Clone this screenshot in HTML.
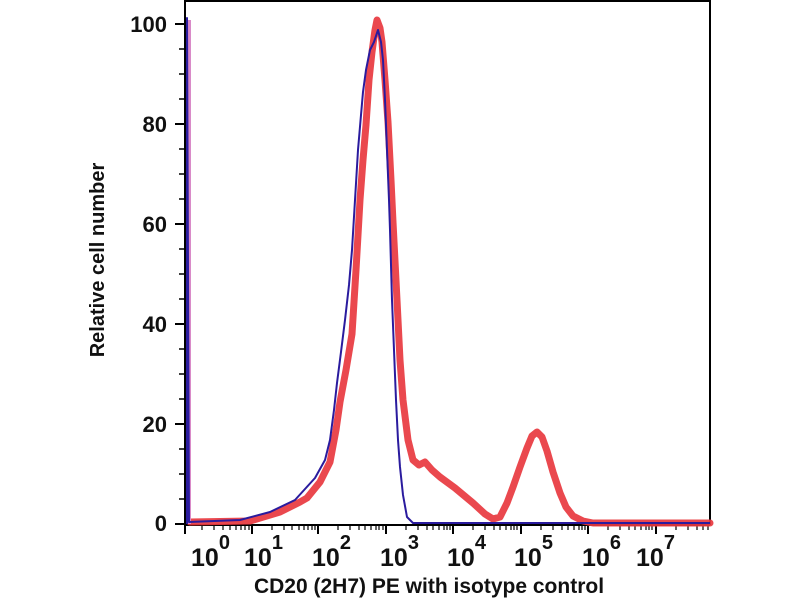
<!DOCTYPE html>
<html><head><style>
body{margin:0;background:#fff;}
svg text{font-family:"Liberation Sans",Arial,sans-serif;font-weight:bold;fill:#111;}
</style></head><body>
<svg width="800" height="600" viewBox="0 0 800 600" xmlns="http://www.w3.org/2000/svg">
<rect width="800" height="600" fill="#fff"/>
<path d="M185,1 L710,1 L710,525 M185,0 L185,526 M185,525 L710,525" stroke="#000" stroke-width="2" fill="none"/>
<g stroke="#000" stroke-width="2">
<line x1="175" y1="24" x2="185" y2="24"/><line x1="175" y1="124" x2="185" y2="124"/>
<line x1="175" y1="224" x2="185" y2="224"/><line x1="175" y1="324" x2="185" y2="324"/>
<line x1="175" y1="424" x2="185" y2="424"/><line x1="175" y1="524" x2="185" y2="524"/>
</g>
<g stroke="#000" stroke-width="1.5">
<line x1="179" y1="49" x2="185" y2="49"/><line x1="179" y1="74" x2="185" y2="74"/><line x1="179" y1="99" x2="185" y2="99"/>
<line x1="179" y1="149" x2="185" y2="149"/><line x1="179" y1="174" x2="185" y2="174"/><line x1="179" y1="199" x2="185" y2="199"/>
<line x1="179" y1="249" x2="185" y2="249"/><line x1="179" y1="274" x2="185" y2="274"/><line x1="179" y1="299" x2="185" y2="299"/>
<line x1="179" y1="349" x2="185" y2="349"/><line x1="179" y1="374" x2="185" y2="374"/><line x1="179" y1="399" x2="185" y2="399"/>
<line x1="179" y1="449" x2="185" y2="449"/><line x1="179" y1="474" x2="185" y2="474"/><line x1="179" y1="499" x2="185" y2="499"/>
</g>
<g font-size="22" text-anchor="end">
<text x="167" y="32">100</text><text x="167" y="132">80</text><text x="167" y="232">60</text>
<text x="167" y="332">40</text><text x="167" y="432">20</text><text x="167" y="531">0</text>
</g>
<text transform="translate(104,260) rotate(-90)" font-size="20" text-anchor="middle">Relative cell number</text>
<g stroke="#000" stroke-width="2">
<line x1="185" y1="525" x2="185" y2="534"/>
<line x1="252" y1="525" x2="252" y2="534"/><line x1="318" y1="525" x2="318" y2="534"/>
<line x1="386" y1="525" x2="386" y2="534"/><line x1="453" y1="525" x2="453" y2="534"/>
<line x1="521" y1="525" x2="521" y2="534"/><line x1="588" y1="525" x2="588" y2="534"/>
<line x1="656" y1="525" x2="656" y2="534"/>
</g>
<g stroke="#000" stroke-width="1.2">
<path d="M202,525v5M214,525v5M223,525v5M230,525v5M236,525v5M241,525v5M245,525v5M249,525v5
M272,525v5M284,525v5M292,525v5M299,525v5M304,525v5M308,525v5M312,525v5M315,525v5
M406,525v5M418,525v5M427,525v5M433,525v5M439,525v5M444,525v5M447,525v5M450,525v5
M473,525v5M485,525v5M494,525v5M500,525v5M506,525v5M511,525v5M514,525v5M517,525v5
M541,525v5M553,525v5M562,525v5M568,525v5M574,525v5M579,525v5M582,525v5M585,525v5
M608,525v5M620,525v5M629,525v5M635,525v5M641,525v5M646,525v5M649,525v5M652,525v5
M338,525v5M350,525v5M359,525v5M365,525v5M371,525v5M376,525v5M379,525v5M383,525v5
M676,525v5M688,525v5M697,525v5M703,525v5M708,525v5"/>
</g>
<g font-size="25">
<text x="191" y="566">10<tspan dy="-17" font-size="20">0</tspan></text>
<text x="244" y="566">10<tspan dy="-17" font-size="20">1</tspan></text>
<text x="312" y="566">10<tspan dy="-17" font-size="20">2</tspan></text>
<text x="380" y="566">10<tspan dy="-17" font-size="20">3</tspan></text>
<text x="447" y="566">10<tspan dy="-17" font-size="20">4</tspan></text>
<text x="514" y="566">10<tspan dy="-17" font-size="20">5</tspan></text>
<text x="582" y="566">10<tspan dy="-17" font-size="20">6</tspan></text>
<text x="636" y="566">10<tspan dy="-17" font-size="20">7</tspan></text>
</g>
<text x="429" y="593" font-size="21" text-anchor="middle">CD20 (2H7) PE with isotype control</text>
<path d="M190,522 L250,521 L280,512 L300,502 L307,498 L320,482 L330,462 L336,430 L340,402 L346,370 L352,334 L356,270 L360,200 L363,160 L366,125 L369,80 L372,52 L375,30 L377,20 L380,28 L382,42 L385,80 L388,122 L391,180 L393,222 L397,300 L400,360 L403,400 L408,440 L413,460 L419,465 L425,462 L432,470 L440,477 L455,488 L473,503 L485,514 L493,519 L500,517 L507,503 L513,487 L520,467 L527,448 L532,436 L537,432 L542,437 L547,451 L553,472 L560,493 L566,507 L573,516 L583,521 L593,523 L710,523"
 fill="none" stroke="#e8383f" stroke-width="7" stroke-linejoin="round" stroke-linecap="round" stroke-opacity="0.92"/>
<path d="M189,524 L189,20" stroke="#d98ac8" stroke-width="4"/>
<path d="M187,524 L187,18 L189,522 L240,520 L270,512 L295,500 L315,478 L325,460 L330,440 L334,410 L337,383 L341,352 L345,320 L349,285 L352,250 L355,200 L358,150 L361,115 L363,92 L366,70 L370,50 L374,42 L378,30 L381,42 L383,60 L385,100 L387,150 L389,200 L390,230 L392,300 L394,350 L396,400 L398,440 L400,467 L403,495 L407,517 L413,523 L710,523"
 fill="none" stroke="#2a1b9e" stroke-width="2" stroke-linejoin="round"/>
</svg>
</body></html>
